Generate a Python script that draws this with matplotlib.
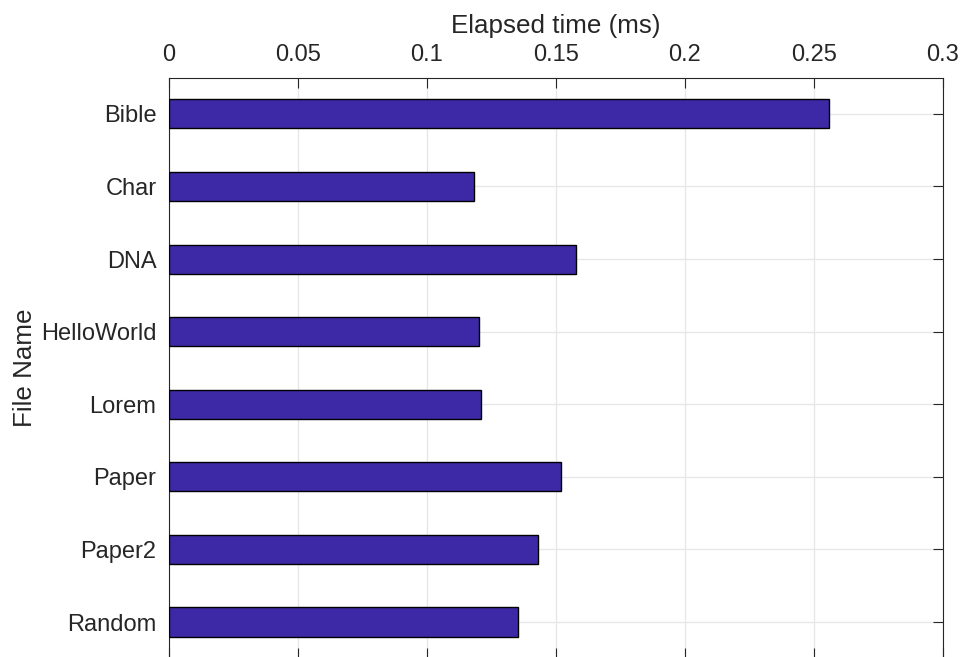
import matplotlib
matplotlib.use("Agg")
import matplotlib.pyplot as plt

# elapsed time per input file
file_names = ["Bible", "Char", "DNA", "HelloWorld", "Lorem", "Paper", "Paper2", "Random"]
elapsed_ms = [0.2558, 0.1182, 0.1580, 0.1201, 0.1211, 0.1521, 0.1430, 0.1352]
x_ticks = [0, 0.05, 0.1, 0.15, 0.2, 0.25, 0.3]
x_ticklabels = ["0", "0.05", "0.1", "0.15", "0.2", "0.25", "0.3"]

plt.rcParams['font.family'] = ['Liberation Sans', 'DejaVu Sans']

fig = plt.figure(figsize=(9.6, 6.57), dpi=100)
ax = fig.add_axes([0.176, -0.002, 0.806, 0.884])

positions = list(range(1, len(file_names) + 1))
ax.barh(positions, elapsed_ms, height=0.4, color="#3d28a6",
        edgecolor="black", linewidth=1.0, zorder=3)

ax.set_xlim(0, 0.3)
ax.set_ylim(8.5, 0.5)
ax.set_xticks(x_ticks)
ax.set_xticklabels(x_ticklabels)
ax.set_yticks(positions)
ax.set_yticklabels(file_names)

ax.xaxis.set_label_position("top")
ax.xaxis.tick_top()
ax.tick_params(axis="both", which="both", direction="in", length=7, width=0.8,
               color="#262626", labelcolor="#262626", labelsize=17,
               top=True, bottom=True, left=True, right=True,
               labeltop=True, labelbottom=False)
ax.tick_params(axis="x", pad=8)
ax.tick_params(axis="y", pad=9)
ax.set_xlabel("Elapsed time (ms)", fontsize=18.7, color="#262626", labelpad=8)
ax.set_ylabel("File Name", fontsize=18.7, color="#262626", labelpad=3)

ax.grid(True, color="#e6e6e6", linewidth=0.9, zorder=0)
ax.set_axisbelow(True)
for sp in ax.spines.values():
    sp.set_color("#262626")
    sp.set_linewidth(0.8)

fig.savefig("out.png", dpi=100)
